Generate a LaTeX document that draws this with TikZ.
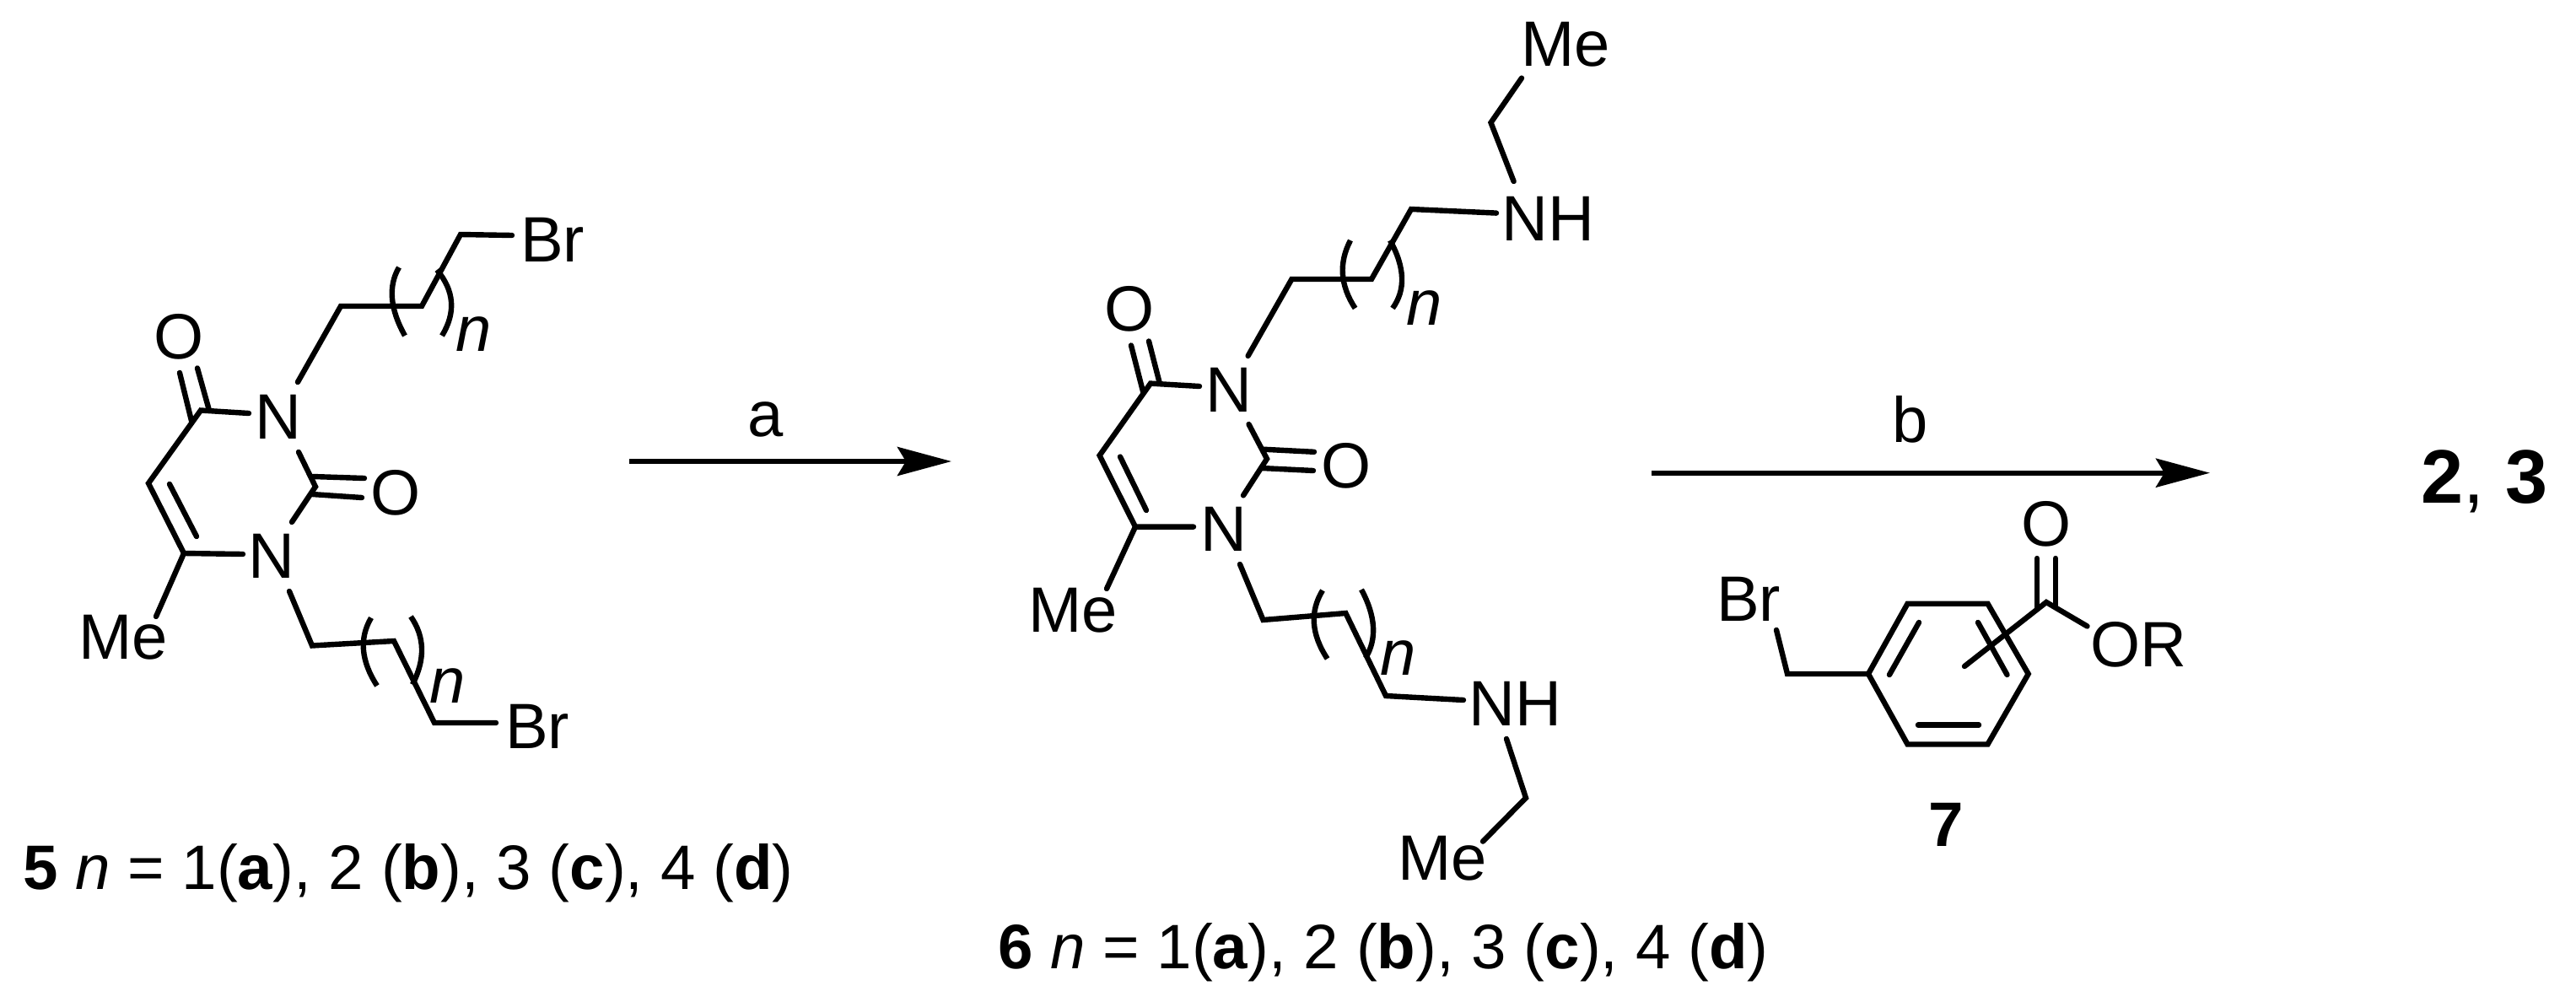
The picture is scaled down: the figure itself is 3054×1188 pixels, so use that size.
\documentclass[tikz,border=0pt]{standalone}
\usepackage{fontspec}
\setmainfont{Liberation Sans}
\usetikzlibrary{arrows.meta,calc}
\tikzset{
  bond/.style={line width=6.4pt,line cap=round,line join=miter,black},
  paren/.style={line width=6.4pt,line cap=butt,black},
  atom/.style={inner sep=0pt,font=\fontsize{76}{90}\selectfont},
  caption/.style={inner sep=0pt,anchor=base west,font=\fontsize{74.5}{88}\selectfont},
  rxn/.style={line width=6pt,-{Stealth[length=64pt,width=34pt,inset=10pt]}},
}
\newcommand{\parenarc}[3]{\draw[paren] (#1) .. controls ($(#1)!.667!(#2)$) and ($(#3)!.667!(#2)$) .. (#3);}
\begin{document}
\begin{tikzpicture}[x=1pt,y=-1pt]
\useasboundingbox (0,0) rectangle (3054,1188);
\fill[white] (0,0) rectangle (3054,1188);
% ---------- compound 5
\node[atom] (aBr1) at (655,284) {Br};
\node[atom] (aN1) at (330,494.5) {N};
\node[atom] (aN2) at (322,659) {N};
\node[atom] (aO1) at (212,399) {O};
\node[atom] (aO2) at (469,584) {O};
\node[atom] (aMe) at (146,756) {Me};
\node[atom] (aBr2) at (637,861) {Br};
\node[atom] (an1) at (562,396) {\textit{n}};
\node[atom] (an2) at (530.5,813) {\textit{n}};
\coordinate (a1) at (607,279);
\coordinate (a2) at (546,278);
\coordinate (a3) at (500,363);
\coordinate (a4) at (404,363);
\coordinate (a5) at (353,453);
\coordinate (c4) at (238,486.5);
\coordinate (c4n) at (295,490);
\coordinate (c5) at (176,573);
\coordinate (c6) at (218,656);
\coordinate (c6n) at (288,657);
\coordinate (d1) at (201,574);
\coordinate (d2) at (233,636);
\coordinate (c2) at (374,577);
\coordinate (c2a) at (354,536);
\coordinate (c2b) at (346,619);
\coordinate (ob1) at (371,565);
\coordinate (ob2) at (432,567);
\coordinate (ob3) at (370,586);
\coordinate (ob4) at (429,590);
\coordinate (oc1) at (213,442);
\coordinate (oc2) at (227,499);
\coordinate (oc3) at (234,436.5);
\coordinate (oc4) at (248,486.5);
\coordinate (me1) at (185,731);
\coordinate (b1) at (343,701);
\coordinate (b2) at (370,765.5);
\coordinate (b3) at (467,760);
\coordinate (b4) at (515,857);
\coordinate (b5) at (588,857);
\draw[bond] (a1) -- (a2) -- (a3) -- (a4) -- (a5);
\draw[bond] (c4n) -- (c4) -- (c5) -- (c6) -- (c6n);
\draw[bond] (d1) -- (d2);
\draw[bond] (c2a) -- (c2) -- (c2b);
\draw[bond] (ob1) -- (ob2);
\draw[bond] (ob3) -- (ob4);
\draw[bond] (oc1) -- (oc2);
\draw[bond] (oc3) -- (oc4);
\draw[bond] (c6) -- (me1);
\draw[bond] (b1) -- (b2) -- (b3) -- (b4) -- (b5);
\parenarc{473,317}{453.5,350.5}{480,398}
\parenarc{518,320}{549,357}{524,398}
\parenarc{440,732.5}{418.5,769}{447,813}
\parenarc{487,731}{512,767}{489,811.5}
\node[caption] (cap5) at (27,1054) {\textbf{5} \textit{n} = 1(\textbf{a}), 2 (\textbf{b}), 3 (\textbf{c}), 4 (\textbf{d})};
% ---------- arrow a
\coordinate (ra1) at (746,547);
\coordinate (ra2) at (1128,547);
\draw[rxn] (ra1) -- (ra2);
\node[atom] (la) at (908,497) {a};
% ---------- compound 6
\node[atom] (eMe1) at (1856,52.5) {Me};
\node[atom] (eNH1) at (1835,259) {NH};
\node[atom] (eN1) at (1457,462) {N};
\node[atom] (eO1) at (1339,366.6) {O};
\node[atom] (eO2) at (1596,552) {O};
\node[atom] (eN2) at (1450.5,627) {N};
\node[atom] (eMe2) at (1272,723.5) {Me};
\node[atom] (eNH2) at (1796.6,834) {NH};
\node[atom] (eMe3) at (1710,1018) {Me};
\node[atom] (en1) at (1689,365.5) {\textit{n}};
\node[atom] (en2) at (1657.5,780.5) {\textit{n}};
\coordinate (e1) at (1804,92.6);
\coordinate (e2) at (1767.5,145.4);
\coordinate (e3) at (1794.6,215);
\coordinate (e4) at (1774,252.6);
\coordinate (e5) at (1673,248);
\coordinate (e6) at (1626,331);
\coordinate (e7) at (1531.4,331);
\coordinate (e8) at (1479.6,422);
\coordinate (ec4) at (1364,454.6);
\coordinate (ec4n) at (1422,458);
\coordinate (ec5) at (1303.6,540);
\coordinate (ec6) at (1346,624.6);
\coordinate (ec6n) at (1415,624.6);
\coordinate (ed1) at (1328,541.5);
\coordinate (ed2) at (1359,605);
\coordinate (ec2) at (1502,544);
\coordinate (ec2a) at (1480.5,503);
\coordinate (ec2b) at (1474,587.4);
\coordinate (eob1) at (1497.5,532.7);
\coordinate (eob2) at (1558,535.8);
\coordinate (eob3) at (1496,555);
\coordinate (eob4) at (1557,558);
\coordinate (eoc1) at (1341,409.5);
\coordinate (eoc2) at (1355.5,466);
\coordinate (eoc3) at (1362,404.5);
\coordinate (eoc4) at (1375,455);
\coordinate (eme) at (1312,698);
\coordinate (f1) at (1470,669);
\coordinate (f2) at (1497.5,735);
\coordinate (f3) at (1595.4,727);
\coordinate (f4) at (1643,825);
\coordinate (f5) at (1735,830);
\coordinate (f6) at (1786,876);
\coordinate (f7) at (1809,946);
\coordinate (f8) at (1758,997.6);
\draw[bond] (e1) -- (e2) -- (e3);
\draw[bond] (e4) -- (e5) -- (e6) -- (e7) -- (e8);
\draw[bond] (ec4n) -- (ec4) -- (ec5) -- (ec6) -- (ec6n);
\draw[bond] (ed1) -- (ed2);
\draw[bond] (ec2a) -- (ec2) -- (ec2b);
\draw[bond] (eob1) -- (eob2);
\draw[bond] (eob3) -- (eob4);
\draw[bond] (eoc1) -- (eoc2);
\draw[bond] (eoc3) -- (eoc4);
\draw[bond] (ec6) -- (eme);
\draw[bond] (f1) -- (f2) -- (f3) -- (f4) -- (f5);
\draw[bond] (f6) -- (f7) -- (f8);
\parenarc{1601,285}{1580,325}{1606.6,365.5}
\parenarc{1648,285}{1674.5,333}{1651,365.5}
\parenarc{1568,700}{1545,737.5}{1573.6,781}
\parenarc{1614,699}{1639.5,746.5}{1619,780}
\node[caption] (cap6) at (1183,1148) {\textbf{6} \textit{n} = 1(\textbf{a}), 2 (\textbf{b}), 3 (\textbf{c}), 4 (\textbf{d})};
% ---------- arrow b
\coordinate (rb1) at (1958,560.7);
\coordinate (rb2) at (2620,560.7);
\draw[rxn] (rb1) -- (rb2);
\node[atom] (lb) at (2265,497) {b};
% ---------- compound 7
\node[atom] (gO) at (2426,621) {O};
\node[atom] (gOR) at (2535,764) {OR};
\node[atom] (gBr) at (2073,710) {Br};
\node[caption,anchor=base,font=\fontsize{74.5}{88}\selectfont\bfseries] (cap7) at (2307,1003) {7};
\coordinate (g1) at (2261.5,715.7);
\coordinate (g2) at (2356.5,715.7);
\coordinate (g3) at (2404.7,799);
\coordinate (g4) at (2356.5,882.5);
\coordinate (g5) at (2261.5,882.5);
\coordinate (g6) at (2215,799);
\coordinate (gc) at (2426,714);
\coordinate (gd1) at (2415,662);
\coordinate (gd2) at (2415,721);
\coordinate (gd3) at (2437,662);
\coordinate (gd4) at (2437,717.5);
\coordinate (go) at (2474.5,742.5);
\coordinate (gs) at (2329,790);
\coordinate (gi1) at (2275,738);
\coordinate (gi2) at (2240,800);
\coordinate (gi3) at (2345,738);
\coordinate (gi4) at (2379.5,800);
\coordinate (gi5) at (2274,859.6);
\coordinate (gi6) at (2346,859.6);
\coordinate (gm) at (2119,799);
\coordinate (gb) at (2106,747);
\draw[bond] (g1) -- (g2) -- (g3) -- (g4) -- (g5) -- (g6) -- cycle;
\draw[bond] (gi1) -- (gi2);
\draw[bond] (gi3) -- (gi4);
\draw[bond] (gi5) -- (gi6);
\draw[bond] (gs) -- (gc) -- (go);
\draw[bond] (gd1) -- (gd2);
\draw[bond] (gd3) -- (gd4);
\draw[bond] (g6) -- (gm) -- (gb);
% ---------- product
\node[caption,font=\fontsize{90}{102}\selectfont] (prod) at (2870,596) {\textbf{2}, \textbf{3}};
\end{tikzpicture}
\end{document}
